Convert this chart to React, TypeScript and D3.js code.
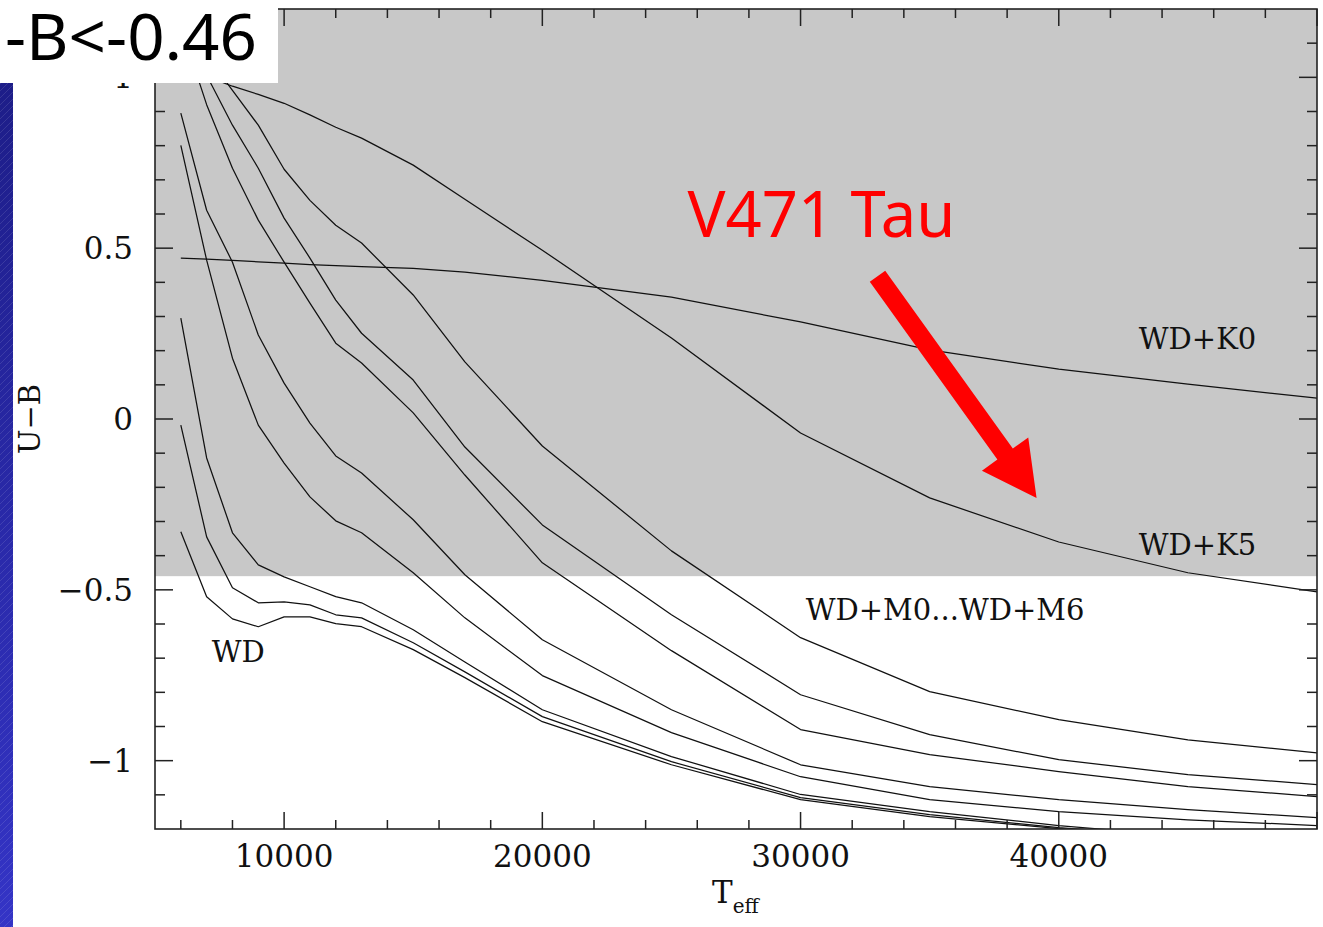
import React from 'react';
import * as d3 from 'd3';

// Effective temperature grid (K) shared by all model tracks
const TEFF = [6000, 7000, 8000, 9000, 10000, 11000, 12000, 13000, 15000, 17000, 20000, 25000, 30000, 35000, 40000, 45000, 50000];

// U-B colour of a white dwarf plus companion, per companion type
const UB_K0 = [0.471, 0.468, 0.464, 0.46, 0.456, 0.452, 0.449, 0.446, 0.441, 0.43, 0.406, 0.357, 0.284, 0.202, 0.146, 0.102, 0.061];
const UB_K5 = [1.04, 1.003, 0.974, 0.95, 0.924, 0.89, 0.854, 0.822, 0.743, 0.643, 0.494, 0.237, -0.041, -0.231, -0.36, -0.45, -0.506];
const UB_M0 = [1.167, 1.064, 0.962, 0.86, 0.731, 0.64, 0.567, 0.515, 0.363, 0.167, -0.079, -0.386, -0.64, -0.798, -0.88, -0.939, -0.977];
const UB_M1 = [1.108, 1.006, 0.86, 0.734, 0.588, 0.471, 0.348, 0.251, 0.114, -0.082, -0.31, -0.573, -0.807, -0.924, -0.997, -1.041, -1.07];
const UB_M2 = [1.15, 0.92, 0.734, 0.582, 0.459, 0.339, 0.222, 0.164, 0.018, -0.164, -0.421, -0.678, -0.909, -0.982, -1.032, -1.076, -1.105];
const UB_M3 = [0.895, 0.611, 0.459, 0.246, 0.105, -0.012, -0.108, -0.158, -0.295, -0.456, -0.646, -0.851, -1.012, -1.076, -1.114, -1.143, -1.167];
const UB_M4 = [0.801, 0.465, 0.178, -0.018, -0.129, -0.228, -0.298, -0.333, -0.45, -0.582, -0.751, -0.918, -1.047, -1.114, -1.149, -1.173, -1.19];
const UB_M5 = [0.295, -0.114, -0.333, -0.427, -0.462, -0.491, -0.52, -0.538, -0.617, -0.711, -0.851, -0.988, -1.099, -1.149, -1.19, -1.222, null];
const UB_M6 = [-0.018, -0.345, -0.494, -0.538, -0.535, -0.544, -0.573, -0.582, -0.655, -0.74, -0.871, -1.003, -1.108, -1.158, -1.196, -1.225, null];
const UB_WD = [-0.33, -0.52, -0.585, -0.608, -0.579, -0.579, -0.599, -0.608, -0.675, -0.757, -0.886, -1.012, -1.114, -1.164, -1.199, -1.228, null];

const SERIES = [UB_K0, UB_K5, UB_M0, UB_M1, UB_M2, UB_M3, UB_M4, UB_M5, UB_M6, UB_WD];

// Axis ticks
const X_MAJOR = [10000, 20000, 30000, 40000, 50000];
const X_LABELS = [10000, 20000, 30000, 40000];
const Y_MAJOR = [-1, -0.5, 0, 0.5, 1];

// Colour cut and annotations (data coordinates)
const UB_CUT = -0.46;
const CURVE_LABELS = [
  { text: 'WD+K0', t: 43100, ub: 0.205 },
  { text: 'WD+K5', t: 43100, ub: -0.398 },
  { text: 'WD+M0...WD+M6', t: 30200, ub: -0.588 },
  { text: 'WD', t: 7200, ub: -0.711 },
];
const STAR = { text: 'V471 Tau', t: 25620, ub: 0.532 };
const ARROW = { from: [32980, 0.418], to: [39140, -0.231] };

export default function App() {
  const W = 1323, H = 927;
  const left = 155, right = 1317, top = 9, bottom = 829;
  const x = d3.scaleLinear().domain([5000, 50000]).range([left, right]);
  const y = d3.scaleLinear().domain([-1.2, 1.2]).range([bottom, top]);

  const xMinor = d3.range(6000, 50000, 2000).filter(v => v % 10000 !== 0);
  const yMinor = d3.range(-11, 12).map(v => v / 10).filter(v => Math.abs((v * 2) - Math.round(v * 2)) > 1e-6);

  const line = d3.line<[number, number | null]>()
    .defined(d => d[1] !== null)
    .x(d => x(d[0]))
    .y(d => y(d[1] as number));

  const fmtY = (v: number) => (v < 0 ? '\u2212' : '') + String(Math.abs(v));

  // arrow geometry in pixels
  const ax0 = x(ARROW.from[0]), ay0 = y(ARROW.from[1]);
  const ax1 = x(ARROW.to[0]), ay1 = y(ARROW.to[1]);
  const dx = ax1 - ax0, dy = ay1 - ay0;
  const len = Math.hypot(dx, dy);
  const ux = dx / len, uy = dy / len;
  const px = -uy, py = ux;
  const shaftW = 19, headW = 57, headL = 54;
  const bx = ax1 - ux * headL, by = ay1 - uy * headL;
  const arrowPts = [
    [ax0 + px * shaftW / 2, ay0 + py * shaftW / 2],
    [bx + px * shaftW / 2, by + py * shaftW / 2],
    [bx + px * headW / 2, by + py * headW / 2],
    [ax1, ay1],
    [bx - px * headW / 2, by - py * headW / 2],
    [bx - px * shaftW / 2, by - py * shaftW / 2],
    [ax0 - px * shaftW / 2, ay0 - py * shaftW / 2],
  ].map(p => p.join(',')).join(' ');

  const serif = '"DejaVu Serif", serif';
  const sans = '"Noto Sans", "Open Sans", sans-serif';

  return (
    <svg width={W} height={H} style={{ position: 'absolute', left: 0, top: 0, background: '#fff' }}>
      <defs>
        <linearGradient id="band" x1="0" y1="0" x2="0" y2="1">
          <stop offset="0" stopColor="#1b1b82" />
          <stop offset="1" stopColor="#3434c6" />
        </linearGradient>
        <pattern id="hatch" patternUnits="userSpaceOnUse" width="7" height="7">
          <path d="M0,7 L7,0" stroke="rgba(255,255,255,0.14)" strokeWidth="0.8" />
        </pattern>
        <clipPath id="plotClip">
          <rect x={left} y={top} width={right - left} height={bottom - top} />
        </clipPath>
      </defs>

      <rect x={0} y={0} width={W} height={H} fill="#fff" />
      <rect x={0} y={0} width={13} height={H} fill="url(#band)" />
      <rect x={0} y={0} width={13} height={H} fill="url(#hatch)" />

      {/* shaded colour region above the cut */}
      <rect x={left} y={top} width={right - left} height={y(UB_CUT) - top} fill="#c8c8c8" />

      <g clipPath="url(#plotClip)" fill="none" stroke="#111" strokeWidth={1.25} strokeLinejoin="round">
        {SERIES.map((s, i) => (
          <path key={i} d={line(TEFF.map((t, j) => [t, s[j]] as [number, number | null])) || ''} />
        ))}
      </g>

      {/* frame */}
      <rect x={left} y={top} width={right - left} height={bottom - top} fill="none" stroke="#222" strokeWidth={1.6} />

      {/* ticks */}
      <g stroke="#222" strokeWidth={1.5}>
        {X_MAJOR.map(v => (
          <g key={'xm' + v}>
            <line x1={x(v)} x2={x(v)} y1={bottom} y2={bottom - 17} />
            <line x1={x(v)} x2={x(v)} y1={top} y2={top + 17} />
          </g>
        ))}
        {xMinor.map(v => (
          <g key={'xn' + v}>
            <line x1={x(v)} x2={x(v)} y1={bottom} y2={bottom - 9} />
            <line x1={x(v)} x2={x(v)} y1={top} y2={top + 9} />
          </g>
        ))}
        {Y_MAJOR.map(v => (
          <g key={'ym' + v}>
            <line x1={left} x2={left + 18} y1={y(v)} y2={y(v)} />
            <line x1={right} x2={right - 18} y1={y(v)} y2={y(v)} />
          </g>
        ))}
        {yMinor.map(v => (
          <g key={'yn' + v}>
            <line x1={left} x2={left + 10} y1={y(v)} y2={y(v)} />
            <line x1={right} x2={right - 10} y1={y(v)} y2={y(v)} />
          </g>
        ))}
      </g>

      {/* tick labels */}
      <g fontFamily={serif} fontSize={31} fill="#111">
        {X_LABELS.map(v => (
          <text key={'xl' + v} x={x(v)} y={867} textAnchor="middle">{String(v)}</text>
        ))}
        {Y_MAJOR.map(v => (
          <text key={'yl' + v} x={133} y={y(v) + 11} textAnchor="end">{fmtY(v)}</text>
        ))}
      </g>

      {/* axis titles */}
      <text x={712} y={903} fontFamily={serif} fontSize={31} fill="#111">
        T<tspan fontSize={20} dy={10}>eff</tspan>
      </text>
      <text transform="translate(40,419) rotate(-90)" textAnchor="middle" fontFamily={serif} fontSize={29} fill="#111">U{'\u2212'}B</text>

      {/* track labels */}
      <g fontFamily={serif} fontSize={29} fill="#111">
        {CURVE_LABELS.map(l => (
          <text key={l.text} x={x(l.t)} y={y(l.ub)}>{l.text}</text>
        ))}
      </g>

      {/* selection box */}
      <rect x={0} y={0} width={278} height={83} fill="#fff" />
      <text x={5} y={60} fontFamily={sans} fontSize={64} fill="#000" textLength={252} lengthAdjust="spacingAndGlyphs">-B&lt;-0.46</text>

      {/* V471 Tau annotation */}
      <text x={x(STAR.t)} y={y(STAR.ub)} fontFamily={sans} fontSize={64} fill="#ff0000" textLength={268} lengthAdjust="spacingAndGlyphs">{STAR.text}</text>
      <polygon points={arrowPts} fill="#ff0000" />
    </svg>
  );
}
